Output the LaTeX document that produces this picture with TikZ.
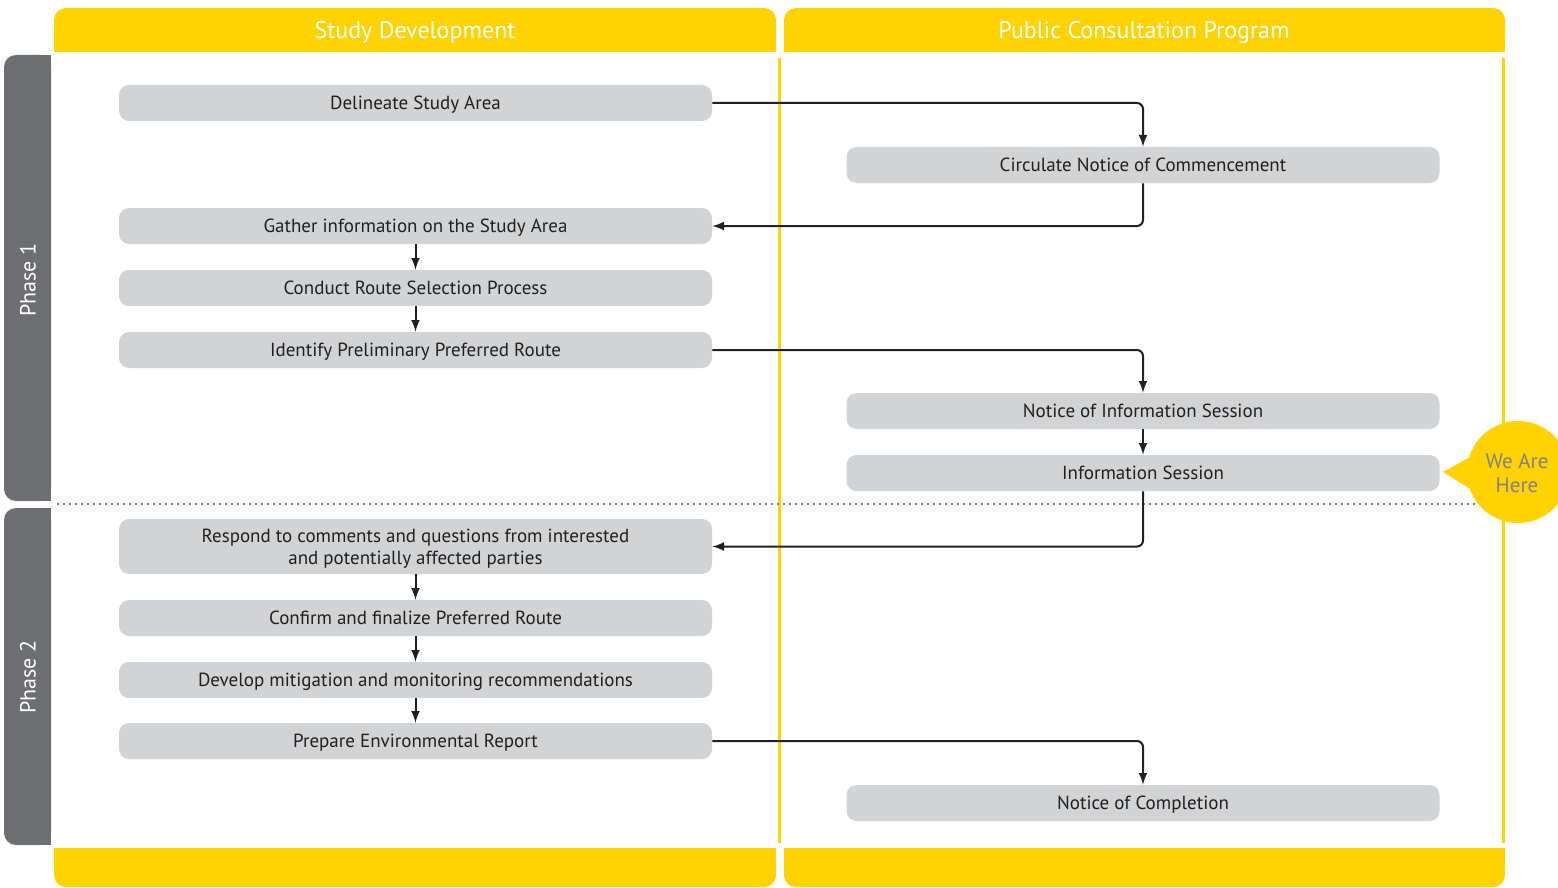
\documentclass[tikz,border=0pt]{standalone}
\usepackage{fontspec}
\setmainfont{PT Sans}
\definecolor{laneyellow}{HTML}{FFD200}
\definecolor{phasegray}{HTML}{6D6E71}
\definecolor{boxgray}{HTML}{D1D3D4}
\definecolor{inkdark}{HTML}{231F20}
\definecolor{dotgray}{HTML}{58595B}
\definecolor{heregray}{HTML}{808285}
\begin{document}
\begin{tikzpicture}[x=0.5pt,y=-0.5pt,>=latex,
    stepbox/.style={fill=boxgray,rounded corners=5pt,minimum width=296.5pt,minimum height=18pt,
        inner sep=0pt,align=center,text=inkdark,font=\fontsize{9.5}{11}\selectfont,
        text height=6.6pt,text depth=0pt},
    link/.style={->,draw=inkdark,line width=1pt,rounded corners=3pt},
    lanetitle/.style={text=white,font=\fontsize{12}{14}\selectfont,text height=8.4pt,text depth=0pt},
    phasetitle/.style={text=white,rotate=90,font=\fontsize{11}{13}\selectfont}]
    \clip (0,0) rectangle (1558,888);
    % lane headers and footers
    \fill[laneyellow,rounded corners=6pt](54,8) rectangle (776,52);
    \fill[laneyellow](54,30) rectangle (776,52);
    \fill[laneyellow,rounded corners=6pt](784,8) rectangle (1505,52);
    \fill[laneyellow](784,30) rectangle (1505,52);
    \fill[laneyellow,rounded corners=6pt](54,848) rectangle (776,887);
    \fill[laneyellow](54,848) rectangle (776,868);
    \fill[laneyellow,rounded corners=6pt](784,848) rectangle (1505,887);
    \fill[laneyellow](784,848) rectangle (1505,868);
    \node[lanetitle](hstudy) at (415,30) {Study Development};
    \node[lanetitle](hpublic) at (1144,30) {Public Consultation Program};
    \draw[laneyellow,line width=1.5pt](779.5,58)--(779.5,843);
    \draw[laneyellow,line width=1.5pt](1503,58)--(1503,843);
    % phase bars
    \fill[phasegray,rounded corners=6pt](4,55) rectangle (51,501);
    \fill[phasegray](30,55) rectangle (51,501);
    \fill[phasegray,rounded corners=6pt](4,508) rectangle (51,845);
    \fill[phasegray](30,508) rectangle (51,845);
    \node[phasetitle](ph1) at (28,280) {Phase 1};
    \node[phasetitle](ph2) at (28,677) {Phase 2};
    \draw[dotgray,line width=1.2pt,line cap=round,dash pattern=on 0pt off 3pt](58,504)--(1478,504);
    % study development steps
    \node[stepbox](delin) at (415.5,103) {Delineate Study Area};
    \node[stepbox](gather) at (415.5,226) {Gather information on the Study Area};
    \node[stepbox](route) at (415.5,288) {Conduct Route Selection Process};
    \node[stepbox](ident) at (415.5,350) {Identify Preliminary Preferred Route};
    \node[stepbox,minimum height=27.5pt,text height=,text depth=0pt](respond) at (415.5,546.5) {Respond to comments and questions from interested\\and potentially affected parties};
    \node[stepbox](confirm) at (415.5,618) {Confirm and finalize Preferred Route};
    \node[stepbox](mitig) at (415.5,680) {Develop mitigation and monitoring recommendations};
    \node[stepbox](report) at (415.5,741) {Prepare Environmental Report};
    % consultation steps
    \node[stepbox](circ) at (1143,165) {Circulate Notice of Commencement};
    \node[stepbox](notinfo) at (1143,411) {Notice of Information Session};
    \node[stepbox](infosess) at (1143,473) {Information Session};
    \node[stepbox](complete) at (1143,803) {Notice of Completion};
    % connectors
    \draw[link](delin.east)-|(circ.north);
    \draw[link](circ.south)|-(gather.east);
    \draw[link](gather.south)--(route.north);
    \draw[link](route.south)--(ident.north);
    \draw[link](ident.east)-|(notinfo.north);
    \draw[link](notinfo.south)--(infosess.north);
    \draw[link](infosess.south)|-(respond.east);
    \draw[link](respond.south)--(confirm.north);
    \draw[link](confirm.south)--(mitig.north);
    \draw[link](mitig.south)--(report.north);
    \draw[link](report.east)-|(complete.north);
    % we are here bubble
    \fill[laneyellow](1518,472) circle[radius=25.5pt];
    \fill[laneyellow](1443,472)--(1472,456)--(1472,490)--cycle;
    \node[text=heregray,align=center,font=\fontsize{10.5}{12}\selectfont](here) at (1517,473) {We Are\\Here};
\end{tikzpicture}
\end{document}
